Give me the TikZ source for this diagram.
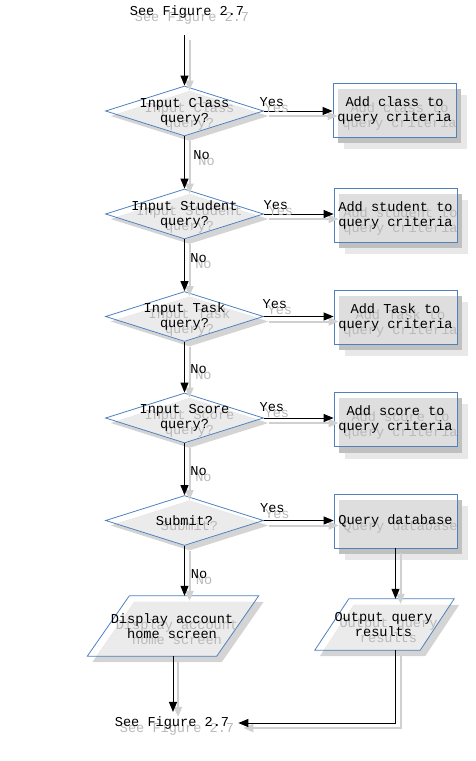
\documentclass[tikz,border=0pt]{standalone}
\usepackage{fontspec}
\newfontfamily\mono{Liberation Mono}
\usetikzlibrary{arrows.meta,calc,shapes.geometric}
\pgfdeclarelayer{bg}
\pgfsetlayers{bg,main}
\definecolor{outl}{RGB}{79,129,189}
\definecolor{shdark}{RGB}{212,212,212}
\definecolor{shlight}{RGB}{235,235,235}
\definecolor{boxdark}{RGB}{192,192,192}
\definecolor{boxfill}{RGB}{222,222,222}
\definecolor{boxouter}{RGB}{232,232,232}
\definecolor{txtsh}{RGB}{185,185,185}
\definecolor{edgesh}{RGB}{208,208,208}
\tikzset{
  txt/.style={font=\mono\fontsize{13.6}{15}\selectfont, align=center, inner sep=0pt, text=black},
  stxt/.style={txt, text=txtsh},
  dia/.style={diamond, draw=outl, line width=0.8pt, minimum width=158pt, minimum height=50pt, inner sep=0pt},
  box/.style={rectangle, draw=outl, line width=0.8pt, minimum width=123pt, minimum height=54pt, inner sep=0pt},
  para/.style={rectangle, inner sep=0pt},
  outline/.style={draw=outl, line width=0.8pt},
  conn/.style={draw=black, line width=1pt, -{Triangle[length=10pt,width=8pt]}},
  sconn/.style={draw=edgesh, line width=2pt, -{Triangle[length=10pt,width=8pt]}, transform canvas={xshift=5pt,yshift=-5pt}},
}
\newcommand\mkdia[3]{%
  \node[dia] (#1) at (#2) {};
  \begin{pgfonlayer}{bg}
    \node[dia, draw=none, fill=shdark] at ($(#1)+(5,5)$) {};
    \begin{scope}
      \clip (#1.north) -- (#1.east) -- (#1.south) -- (#1.west) -- cycle;
      \node[dia, draw=none, fill=shlight] at ($(#1)+(5,5)$) {};
    \end{scope}
  \end{pgfonlayer}
  \node[stxt] at ($(#1)+(5,5.5)$) {#3};
  \node[txt] at (#1) {#3};
}
\newcommand\mkbox[3]{%
  \node[box] (#1) at (#2) {};
  \begin{pgfonlayer}{bg}
    \fill[boxouter] ($(#1.south west)+(11,12)$) rectangle ($(#1.north east)+(11,12)$);
    \fill[boxdark] ($(#1.south west)+(5,6)$) rectangle ($(#1.north east)+(5,6)$);
    \begin{scope}
      \clip (#1.south west) rectangle (#1.north east);
      \fill[boxfill] ($(#1.south west)+(5,6)$) rectangle ($(#1.north east)+(5,6)$);
    \end{scope}
  \end{pgfonlayer}
  \node[stxt] at ($(#1)+(5,6)$) {#3};
  \node[txt] at (#1) {#3};
}
% name, position, mid width, height, half slant, text
\newcommand\mkpara[6]{%
  \node[para, minimum width=#3, minimum height=#4] (#1) at (#2) {};
  \begin{pgfonlayer}{bg}
    \fill[shdark] ($(#1.south west)+(-#5+5,6)$) -- ($(#1.south east)+(-#5+5,6)$) -- ($(#1.north east)+(#5+5,6)$) -- ($(#1.north west)+(#5+5,6)$) -- cycle;
    \begin{scope}
      \clip ($(#1.south west)+(-#5,0)$) -- ($(#1.south east)+(-#5,0)$) -- ($(#1.north east)+(#5,0)$) -- ($(#1.north west)+(#5,0)$) -- cycle;
      \fill[shlight] ($(#1.south west)+(-#5+5,6)$) -- ($(#1.south east)+(-#5+5,6)$) -- ($(#1.north east)+(#5+5,6)$) -- ($(#1.north west)+(#5+5,6)$) -- cycle;
    \end{scope}
  \end{pgfonlayer}
  \draw[outline] ($(#1.south west)+(-#5,0)$) -- ($(#1.south east)+(-#5,0)$) -- ($(#1.north east)+(#5,0)$) -- ($(#1.north west)+(#5,0)$) -- cycle;
  \node[stxt] at ($(#1)+(4,6)$) {#6};
  \node[txt] at ($(#1)+(-1,0)$) {#6};
}
\newcommand\lbl[3]{%
  \node[stxt] at ($(#1)+(#2)+(5,6)$) {#3};
  \node[txt] at ($(#1)+(#2)$) {#3};
}
\newcommand\edge[2][]{\draw[sconn,#1] #2; \draw[conn,#1] #2;}
\begin{document}
\begin{tikzpicture}[x=1pt,y=-1pt]
\useasboundingbox (0,0) rectangle (475,761);
% terminals
\node[stxt] at (192,17.5) {See Figure 2.7};
\node[txt] (top) at (187,12) {See Figure 2.7};
\node[stxt] at (177,729) {See Figure 2.7};
\node[txt, inner xsep=9pt, inner ysep=4.5pt] (bot) at (172,723) {See Figure 2.7};
% decisions
\mkdia{d1}{184.5,111}{Input Class\\query?}
\mkdia{d2}{184.5,214}{Input Student\\query?}
\mkdia{d3}{184.5,316.5}{Input Task\\query?}
\mkdia{d4}{184.5,418}{Input Score\\query?}
\mkdia{d5}{184.5,520.5}{Submit?}
% processes
\mkbox{b1}{394.5,110}{Add class to\\query criteria}
\mkbox{b2}{395.5,215}{Add student to\\query criteria}
\mkbox{b3}{395.5,317}{Add Task to\\query criteria}
\mkbox{b4}{395.5,419.5}{Add score to\\query criteria}
\mkbox{b5}{395.5,521}{Query database}
% data
\mkpara{p1}{173,626}{129pt}{60pt}{21}{Display account\\home screen}
\mkpara{p2}{384.5,624.5}{105pt}{51pt}{17}{Output query\\results}
% connectors
\edge[shorten <=16.5pt]{(d1.north |- top.south) -- (d1.north)}
\edge{(d1.south) -- (d2.north)}
\edge{(d2.south) -- (d3.north)}
\edge{(d3.south) -- (d4.north)}
\edge{(d4.south) -- (d5.north)}
\edge{(d5.south) -- (d5.south |- p1.north)}
\edge{(p1.south) -- (p1.south |- bot.north)}
\edge{(d1.east) -- (d1.east -| b1.west)}
\edge{(d2.east) -- (d2.east -| b2.west)}
\edge{(d3.east) -- (d3.east -| b3.west)}
\edge{(d4.east) -- (d4.east -| b4.west)}
\edge{(d5.east) -- (d5.east -| b5.west)}
\edge{(b5.south) -- (b5.south |- p2.north)}
\edge{(b5.south |- p2.south) |- (bot.east)}
% labels
\lbl{d1.east}{8,-9}{Yes}
\lbl{d2.east}{12,-9}{Yes}
\lbl{d3.east}{11,-12}{Yes}
\lbl{d4.east}{8,-11}{Yes}
\lbl{d5.east}{8.5,-12}{Yes}
\lbl{d1.south}{17,19}{No}
\lbl{d2.south}{14,19}{No}
\lbl{d3.south}{14,27}{No}
\lbl{d4.south}{14,28}{No}
\lbl{d5.south}{14.5,28}{No}
\end{tikzpicture}
\end{document}
